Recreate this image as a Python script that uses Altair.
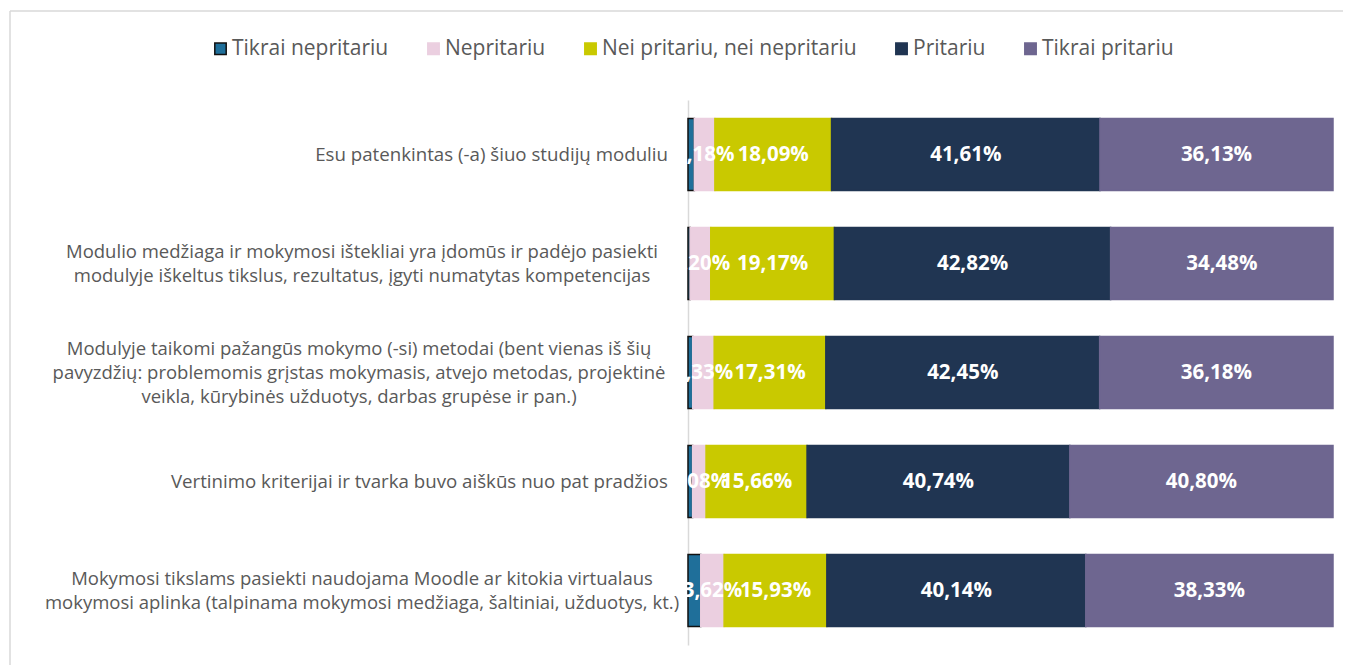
import altair as alt
import pandas as pd

questions = [
    "Esu patenkintas (-a) šiuo studijų moduliu",
    "Modulio medžiaga ir mokymosi ištekliai yra įdomūs ir padėjo pasiekti|modulyje iškeltus tikslus, rezultatus, įgyti numatytas kompetencijas",
    "Modulyje taikomi pažangūs mokymo (-si) metodai (bent vienas iš šių|pavyzdžių: problemomis grįstas mokymasis, atvejo metodas, projektinė|veikla, kūrybinės užduotys, darbas grupėse ir pan.)",
    "Vertinimo kriterijai ir tvarka buvo aiškūs nuo pat pradžios",
    "Mokymosi tikslams pasiekti naudojama Moodle ar kitokia virtualaus|mokymosi aplinka (talpinama mokymosi medžiaga, šaltiniai, užduotys, kt.)",
]
cats = ["Tikrai nepritariu", "Nepritariu", "Nei pritariu, nei nepritariu", "Pritariu", "Tikrai pritariu"]
tikrai_nepritariu = [0.99, 0.33, 0.73, 0.72, 1.98]
nepritariu = [3.18, 3.20, 3.33, 2.08, 3.62]
nei = [18.09, 19.17, 17.31, 15.66, 15.93]
pritariu = [41.61, 42.82, 42.45, 40.74, 40.14]
tikrai_pritariu = [36.13, 34.48, 36.18, 40.80, 38.33]
series = [tikrai_nepritariu, nepritariu, nei, pritariu, tikrai_pritariu]

fill_colors = ["#1F6F9A", "#EBCFE0", "#C9C900", "#203552", "#6E6690"]
stroke_colors = ["#111111", "#EBCFE0", "#C9C900", "#203552", "#6E6690"]

rows = []
for qi, q in enumerate(questions):
    for ci, (c, vals) in enumerate(zip(cats, series)):
        v = vals[qi]
        rows.append(dict(qi=qi, cat=c, ci=ci, v=v,
                         lab=f"{v:.2f}".replace(".", ",") + "%"))
df = pd.DataFrame(rows)
qdf = pd.DataFrame({"qi": list(range(len(questions))), "text": questions,
                    "nlines": [q.count("|") + 1 for q in questions]})

FONT = "Open Sans"
GRAY = "#595959"
LH = 24

y_enc = alt.Y("qi:O", scale=alt.Scale(paddingInner=0.34, paddingOuter=0.17),
              axis=alt.Axis(labels=False, ticks=False, title=None,
                            domainColor="#D9D9D9", domainWidth=1.5, grid=False))

base = alt.Chart(df).transform_stack(
    stack="v", groupby=["qi"], sort=[alt.SortField("ci", order="ascending")], as_=["x0", "x1"]
).transform_calculate(mid="(datum.x0 + datum.x1) / 2")

bars = base.mark_bar(strokeWidth=1.5).encode(
    x=alt.X("x0:Q", scale=alt.Scale(domain=[0, 100]), axis=None),
    x2="x1:Q",
    y=y_enc,
    fill=alt.Fill("cat:N", scale=alt.Scale(domain=cats, range=fill_colors), title=None),
    stroke=alt.Stroke("cat:N", scale=alt.Scale(domain=cats, range=stroke_colors), title=None),
)

labels = base.transform_filter(alt.datum.ci > 0).mark_text(
    color="white", font=FONT, fontWeight="bold", fontSize=20.5, baseline="middle", align="center"
).encode(
    x=alt.X("mid:Q", scale=alt.Scale(domain=[0, 100]), axis=None),
    y=y_enc,
    text="lab:N",
)

single = alt.Chart(qdf).transform_filter("datum.nlines == 1").mark_text(
    align="right", baseline="middle", font=FONT, fontSize=18.7, color=GRAY
).encode(x=alt.value(-20), y=y_enc, text="text:N")

two = alt.Chart(qdf).transform_filter("datum.nlines == 2").mark_text(
    align="center", baseline="middle", font=FONT, fontSize=18.5, color=GRAY,
    lineBreak="|", lineHeight=LH, dy=-LH / 2
).encode(x=alt.value(-326), y=y_enc, text="text:N")

three = alt.Chart(qdf).transform_filter("datum.nlines == 3").mark_text(
    align="center", baseline="middle", font=FONT, fontSize=18.5, color=GRAY,
    lineBreak="|", lineHeight=LH, dy=-LH
).encode(x=alt.value(-329), y=y_enc, text="text:N")

one = pd.DataFrame({"k": [0]})
border_left = alt.Chart(one).mark_rule(color="#D9D9D9", strokeWidth=1.5).encode(
    x=alt.value(-678), y=alt.value(-89), y2=alt.value(600))
border_top = alt.Chart(one).mark_rule(color="#D9D9D9", strokeWidth=1.5).encode(
    y=alt.value(-89), x=alt.value(-678), x2=alt.value(660))

chart = alt.layer(border_left, border_top, bars, labels, single, two, three).properties(
    width=645, height=545,
    padding={"left": 680, "top": 92, "right": 10, "bottom": 20},
    autosize=alt.AutoSizeParams(type="none"),
).configure_view(stroke=None).configure_legend(
    orient="none", legendX=-478, legendY=-62, direction="horizontal",
    symbolType="square", symbolSize=130, symbolStrokeWidth=1.5,
    labelFont=FONT, labelFontSize=21, labelColor=GRAY, labelLimit=400,
    columnPadding=34, labelOffset=1, padding=0, title=None,
)

chart.save("out.html", embed_options={"renderer": "svg", "actions": False})
